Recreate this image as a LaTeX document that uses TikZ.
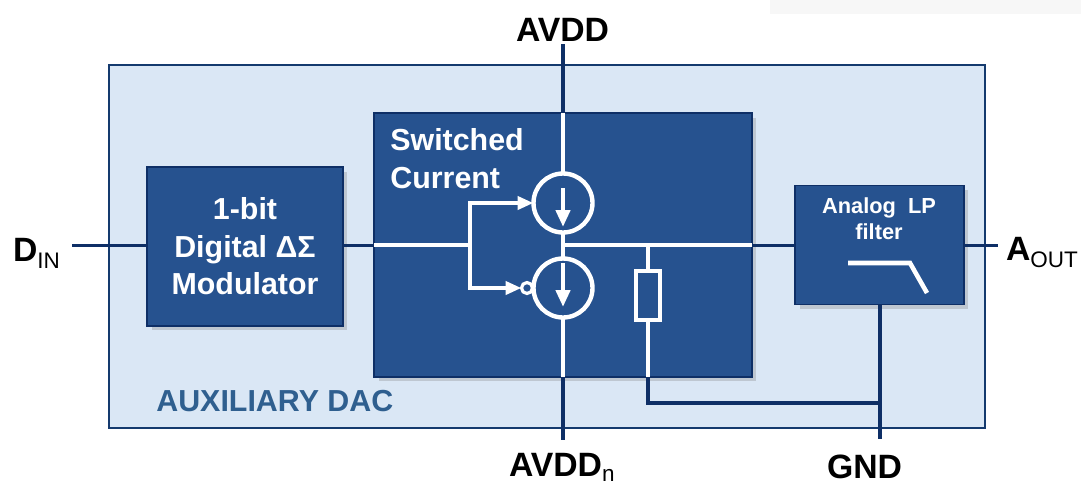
\documentclass[tikz,border=0pt]{standalone}
\usepackage{fontspec}
\setmainfont{Liberation Sans}
\usetikzlibrary{arrows.meta,shadows}
\definecolor{panelblue}{HTML}{DAE7F5}
\definecolor{blockblue}{HTML}{26528F}
\definecolor{edgeblue}{HTML}{143A6E}
\definecolor{wireblue}{HTML}{0E2F66}
\definecolor{dacblue}{HTML}{2F5F8F}
\tikzset{
	panel/.style={draw=edgeblue, line width=1.2pt, fill=panelblue},
	block/.style={draw=wireblue, line width=1.0pt, fill=blockblue, text=white, inner sep=0pt, outer sep=0pt, align=center, drop shadow={shadow xshift=0.9mm, shadow yshift=-0.9mm, opacity=0.3}},
	darkwire/.style={draw=wireblue, line width=1.7pt},
	whitewire/.style={draw=white, line width=2.5pt},
	tag/.style={inner sep=0pt, outer sep=0pt, anchor=base west, text=black, font=\fontsize{19.2}{22}\selectfont\bfseries},
	source/.style={circle, draw=white, line width=2.5pt, minimum size=1.18cm, inner sep=0pt, outer sep=0pt},
	midtext/.style={font=\fontsize{17.3}{21.4}\selectfont\bfseries},
	smalltext/.style={font=\fontsize{12.4}{14.7}\selectfont\bfseries},
}
\newcommand{\subtext}[1]{\raisebox{-1.5mm}{\fontsize{12.8}{14}\selectfont\mdseries #1}}

\begin{document}
\begin{tikzpicture}[x=0.02cm, y=-0.02cm]
	%%%%% FRAME %%%%%
	\useasboundingbox (0, 0) rectangle (1081, 484);
	\fill[black!3] (770, 0) rectangle (1081, 14);
	\draw[panel] (109, 65) rectangle (985, 428);
	
	%%%%% BLOCKS %%%%%
	\coordinate (din) at (72, 245);
	\coordinate (aout) at (998, 245);
	\coordinate (vddtop) at (563, 44);
	\coordinate (vddbot) at (563, 440);
	\coordinate (gndbot) at (880, 439);
	
	\node[block, midtext, minimum width=3.92cm, minimum height=3.18cm] (modulator) at (245, 246.5) {1-bit\\Digital ΔΣ\\Modulator};
	\node[block, minimum width=7.56cm, minimum height=5.28cm] (switched) at (563, 245) {};
	\node[block, minimum width=3.38cm, minimum height=2.38cm] (filter) at (879.5, 245) {};
	
	\node[inner sep=0pt, anchor=base west, text=white, align=left, midtext] (switchedlabel) at (390, 188) {Switched\\Current};
	\node[inner sep=0pt, anchor=base, text=white, align=center, smalltext] (filterlabel) at (879, 239) {Analog\ \ LP\\filter};
	\node[inner sep=0pt, anchor=base west, text=dacblue, midtext] (daclabel) at (156, 411) {AUXILIARY DAC};
	
	%%%%% OUTER WIRES %%%%%
	\coordinate (swin) at (switched.west);
	\coordinate (swout) at (switched.east);
	\coordinate (swtop) at (563, 113);
	\coordinate (swbot) at (563, 377);
	\coordinate (resbot) at (648, 377);
	\coordinate (gndtap) at (648, 403);
	\coordinate (gndjoin) at (880, 403);
	\coordinate (filterbot) at (880, 304);
	
	\draw[darkwire] (din) -- (din -| modulator.west);
	\draw[darkwire] (swin -| modulator.east) -- (swin);
	\draw[darkwire] (swout) -- (filter.west);
	\draw[darkwire] (filter.east) -- (aout);
	\draw[darkwire, line width=2pt] (vddtop) -- (swtop);
	\draw[darkwire, line width=2pt] (swbot) -- (vddbot);
	\draw[darkwire, line width=2.6pt] (filterbot) -- (gndbot);
	\draw[darkwire, line width=2.6pt] (resbot) -- (gndtap) -- (gndjoin);
	
	%%%%% SWITCHED CURRENT %%%%%
	\node[source] (sourcetop) at (563, 203) {};
	\node[source] (sourcebot) at (563, 288) {};
	\node[circle, draw=white, line width=1.8pt, minimum size=0.22cm, inner sep=0pt, outer sep=0pt] (bubble) at (527, 288) {};
	\node[draw=white, line width=2.5pt, minimum width=0.48cm, minimum height=0.98cm, inner sep=0pt, outer sep=0pt] (resistor) at (648, 295.5) {};
	
	\coordinate (split) at (470, 245);
	\coordinate (splittop) at (470, 203);
	\coordinate (splitbot) at (470, 288);
	\coordinate (midnode) at (563, 245);
	\coordinate (restap) at (648, 245);
	
	\draw[whitewire] (swin) -- (split);
	\draw[whitewire, -{Triangle[length=3.2mm, width=2.6mm]}] (split) -- (splittop) -- (sourcetop.west);
	\draw[whitewire, -{Triangle[length=3.2mm, width=2.6mm]}] (split) -- (splitbot) -- (bubble.west);
	\draw[whitewire] (swtop) -- (sourcetop.north);
	\draw[whitewire] (sourcetop.south) -- (sourcebot.north);
	\draw[whitewire] (sourcebot.south) -- (swbot);
	\draw[whitewire] (midnode) -- (swout);
	\draw[whitewire] (restap) -- (resistor.north);
	\draw[whitewire] (resistor.south) -- (resbot);
	
	\coordinate (arrowtopa) at (563, 188);
	\coordinate (arrowtopb) at (563, 227);
	\coordinate (arrowbota) at (563, 263);
	\coordinate (arrowbotb) at (563, 307);
	\draw[whitewire, -{Triangle[length=3.4mm, width=2.8mm]}] (arrowtopa) -- (arrowtopb);
	\draw[whitewire, -{Triangle[length=3.4mm, width=2.8mm]}] (arrowbota) -- (arrowbotb);
	
	%%%%% FILTER SYMBOL %%%%%
	\coordinate (lpa) at (848, 263);
	\coordinate (lpb) at (910, 263);
	\coordinate (lpc) at (927, 293);
	\draw[draw=white, line width=2.6pt] (lpa) -- (lpb) -- (lpc);
	
	%%%%% PIN LABELS %%%%%
	\node[tag] (avdd) at (516, 41) {AVDD};
	\node[tag] (avddn) at (509, 476) {AVDD\raisebox{0.4mm}{\subtext{n}}};
	\node[tag] (gnd) at (827, 478) {GND};
	\node[tag] (dinlabel) at (13, 261) {D\subtext{IN}};
	\node[tag] (aoutlabel) at (1006, 260) {A\subtext{OUT}};
\end{tikzpicture}
\end{document}
